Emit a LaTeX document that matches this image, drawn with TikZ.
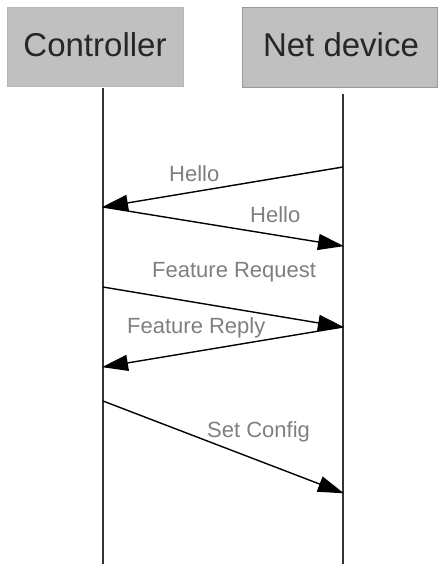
\documentclass[tikz,border=0pt]{standalone}
\usepackage{fontspec}
\setmainfont{Liberation Sans}
\usetikzlibrary{arrows.meta}
\definecolor{boxgray}{HTML}{C0C0C0}
\definecolor{labelgray}{HTML}{7F7F7F}
\definecolor{lifegray}{HTML}{333333}
\begin{document}
\begin{tikzpicture}[x=1pt,y=-1pt,
  header/.style={rectangle, fill=boxgray, inner sep=0pt, font=\fontsize{33}{36}\selectfont, text=black!85},
  lifeline/.style={draw=lifegray, line width=1.6pt},
  msg/.style={draw=black, line width=1.4pt, -{Triangle[length=26pt,width=16pt]}, shorten >=-1pt},
  lbl/.style={anchor=base west, inner sep=0pt, text=labelgray, font=\fontsize{22}{24}\selectfont}]
\useasboundingbox (0,0) rectangle (438,564);
% headers
\node[header, draw=boxgray!95!black, minimum width=176pt, minimum height=79pt] (ctrl) at (95,46.5) {};
\node[header, draw=gray!80, line width=0.8pt, minimum width=195pt, minimum height=80pt] (dev) at (339.5,47) {};
\node[anchor=base, inner sep=0pt, font=\fontsize{33}{36}\selectfont, text=black!85] (ctrltext) at (95,57) {Controller};
\node[anchor=base, inner sep=0pt, font=\fontsize{33}{36}\selectfont, text=black!85] (devtext) at (341,57) {Net device};
% lifeline coordinates
\coordinate (cTop) at (103,88);
\coordinate (cBot) at (103,564);
\coordinate (dTop) at (343,94);
\coordinate (dBot) at (343,564);
\draw[lifeline] (cTop) -- (cBot);
\draw[lifeline] (dTop) -- (dBot);
% message endpoints
\coordinate (d1) at (343,167);
\coordinate (c1) at (103,207);
\coordinate (d2) at (343,246);
\coordinate (c3) at (103,287);
\coordinate (d3) at (343,327);
\coordinate (c4) at (103,367);
\coordinate (c5) at (103,401);
\coordinate (d5) at (343,493);
\draw[msg] (d1) -- (c1);
\draw[msg] (c1) -- (d2);
\draw[msg] (c3) -- (d3);
\draw[msg] (d3) -- (c4);
\draw[msg] (c5) -- (d5);
% labels
\node[lbl] (l1) at (169,182) {Hello};
\node[lbl] (l2) at (250,222) {Hello};
\node[lbl] (l3) at (152,277) {Feature Request};
\node[lbl] (l4) at (127,333) {Feature Reply};
\node[lbl] (l5) at (207,437) {Set Config};
\end{tikzpicture}
\end{document}
